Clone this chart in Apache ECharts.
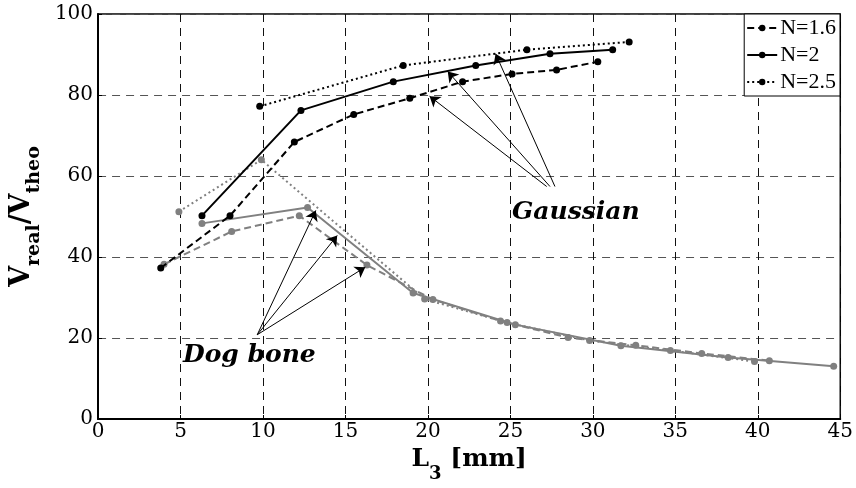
<!DOCTYPE html>
<html>
<head>
<meta charset="utf-8">
<script src="https://cdn.jsdelivr.net/npm/echarts@6/dist/echarts.min.js"></script>
<style>html,body{margin:0;padding:0;background:#fff}#c{width:856px;height:488px}</style>
</head>
<body>
<div id="c"></div>
<script>
// Gaussian (black)
const gauss16 = [[3.8,37.3],[8.0,50.2],[11.9,68.4],[15.5,75.2],[18.9,79.2],[22.1,83.3],[25.1,85.2],[27.8,86.2],[30.3,88.2]];
const gauss20 = [[6.3,50.2],[12.3,76.2],[17.9,83.3],[22.9,87.3],[27.4,90.2],[31.2,91.2]];
const gauss25 = [[9.8,77.2],[18.5,87.3],[26.0,91.2],[32.2,93.1]];
// Dog bone (gray)
const dog16 = [[4.0,38.2],[8.1,46.3],[12.2,50.2],[16.3,38.0],[20.3,29.5],[24.4,24.2],[28.5,20.1],[32.6,18.2],[36.6,16.2],[40.7,14.4]];
const dog20 = [[6.3,48.3],[12.7,52.2],[19.1,31.1],[25.3,23.3],[31.7,18.1],[38.2,15.2],[44.6,13.0]];
const dog25 = [[4.9,51.2],[9.9,64.0],[19.8,29.6],[24.8,23.8],[29.8,19.4],[34.7,16.9],[39.8,14.2]];
const seriesNames = ['N=1.6','N=2','N=2.5'];
const xTicks = {min:0, max:45, interval:5};
const yTicks = {min:0, max:100, interval:20};
// annotation arrows (data coordinates)
const gaussArrows = [[[27.2,57.4],[20.1,79.7]],[[27.4,57.4],[21.2,85.8]],[[27.7,57.4],[24.1,90.2]]];
const dogArrows = [[[9.65,20.8],[13.2,51.5]],[[9.65,20.8],[14.5,45.3]],[[9.65,20.8],[16.2,37.5]]];

const chart = echarts.init(document.getElementById('c'), null, {renderer:'canvas'});
const BLACK = '#000', GRAY = '#808080';
const dashed = [7,4], dotted = [2,3];
function mk(name, data, color, type){
  return {name, type:'line', data, symbol:'circle', symbolSize:7,
    itemStyle:{color}, lineStyle:{color, width:2, type}, z: color===BLACK?3:2};
}
const arrowData = gaussArrows.concat(dogArrows).map(a=>[{coord:a[0]},{coord:a[1]}]);
chart.setOption({
  animation:false,
  grid:{left:97,right:13,top:14,bottom:66,show:true,borderColor:'#000',borderWidth:1.5},
  legend:{
    data:seriesNames, orient:'vertical', right:16, top:14,
    backgroundColor:'#fff', borderColor:'#000', borderWidth:1, borderRadius:0,
    padding:[3,4,3,2], itemGap:5, itemWidth:30, itemHeight:8,
    textStyle:{fontFamily:'Liberation Serif', fontSize:22, color:'#000', padding:[0,0,0,-2]}
  },
  xAxis:{
    type:'value', min:xTicks.min, max:xTicks.max, interval:xTicks.interval,
    axisLine:{lineStyle:{color:'#000',width:2}},
    axisTick:{inside:true,length:4,lineStyle:{color:'#000'}},
    axisLabel:{fontFamily:'DejaVu Serif',fontSize:20,color:'#000',margin:3},
    splitLine:{show:true,lineStyle:{color:'#111',type:[8,6],width:1}},
    name:'{m|L}{s|3}{m| [mm]}', nameLocation:'middle', nameGap:28,
    nameTextStyle:{rich:{
      m:{fontFamily:'DejaVu Serif',fontWeight:'bold',fontSize:25,color:'#000',lineHeight:30,verticalAlign:'top'},
      s:{fontFamily:'DejaVu Serif',fontWeight:'bold',fontSize:18,color:'#000',lineHeight:30,verticalAlign:'bottom',padding:[0,0,-6,0]}
    }}
  },
  yAxis:{
    type:'value', min:yTicks.min, max:yTicks.max, interval:yTicks.interval,
    axisLine:{show:true,lineStyle:{color:'#000',width:2}},
    axisTick:{show:true,inside:true,length:4,lineStyle:{color:'#000'}},
    axisLabel:{fontFamily:'DejaVu Serif',fontSize:20,color:'#000',margin:5},
    splitLine:{show:true,lineStyle:{color:'#555',type:[8,6],width:1}},
    name:'{m|V}{s|real}{m|/V}{s|theo}', nameLocation:'middle', nameGap:49, nameRotate:90,
    nameTextStyle:{rich:{
      m:{fontFamily:'DejaVu Serif',fontWeight:'bold',fontSize:27,color:'#000',lineHeight:30,verticalAlign:'top'},
      s:{fontFamily:'DejaVu Serif',fontWeight:'bold',fontSize:19,color:'#000',lineHeight:30,verticalAlign:'bottom',padding:[0,0,-6,0]}
    }}
  },
  series:[
    mk('dog16', dog16, GRAY, dashed),
    mk('dog20', dog20, GRAY, 'solid'),
    mk('dog25', dog25, GRAY, dotted),
    mk(seriesNames[0], gauss16, BLACK, dashed),
    mk(seriesNames[1], gauss20, BLACK, 'solid'),
    mk(seriesNames[2], gauss25, BLACK, dotted),
    {name:'arrows', type:'line', data:[[0,0]], symbol:'none', lineStyle:{opacity:0}, silent:true, z:5,
     markLine:{silent:true, symbol:['none','arrow'], symbolSize:10, animation:false, precision:4,
       label:{show:false}, emphasis:{disabled:true},
       itemStyle:{color:'#000'},
       lineStyle:{color:'#000',width:1,type:'solid',opacity:1}, data:arrowData}}
  ],
  graphic:[
    {type:'text', left:512, top:200, style:{text:'Gaussian', font:'italic bold 25px "DejaVu Serif"', fill:'#000'}},
    {type:'text', left:183, top:343, style:{text:'Dog bone', font:'italic bold 25px "DejaVu Serif"', fill:'#000'}}
  ]
});
</script>
</body>
</html>
